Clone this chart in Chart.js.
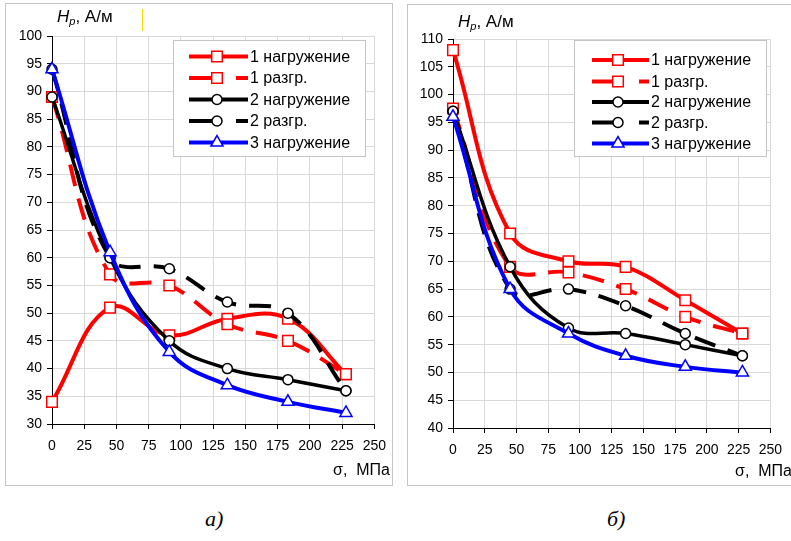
<!DOCTYPE html>
<html>
<head>
<meta charset="utf-8">
<script src="https://cdn.jsdelivr.net/npm/chart.js@4.4.1/dist/chart.umd.min.js"></script>
<style>
  body { margin: 0; background: #fff; width: 791px; height: 541px; position: relative; overflow: hidden; }
  .panel { position: absolute; border: 1px solid #c4c4c4; box-sizing: border-box; }
  #panelA { left: 5px; top: 3px; width: 388px; height: 483px; }
  #panelB { left: 407px; top: 4px; width: 400px; height: 482px; }
  canvas { position: absolute; top: 0; }
  #chartA { left: 0; }
  #chartB { left: 400px; }
  .caption { position: absolute; top: 506px; font: italic 22px 'Liberation Serif', 'Times New Roman', serif; }
  #cursor { position: absolute; left: 142px; top: 9px; width: 1px; height: 22px; background: #f0e000; }
</style>
</head>
<body>
<div class="panel" id="panelA"></div>
<div class="panel" id="panelB"></div>
<div id="cursor"></div>
<canvas id="chartA" width="395" height="490"></canvas>
<canvas id="chartB" width="391" height="490"></canvas>
<div class="caption" style="left:205px">а)</div>
<div class="caption" style="left:607px">б)</div>

<script>
// sigma, MPa - same points for every series
const sigma = [0, 45, 91, 136, 183, 228];
const xTickValues = [0, 25, 50, 75, 100, 125, 150, 175, 200, 225, 250];
const yTicksA = [30, 35, 40, 45, 50, 55, 60, 65, 70, 75, 80, 85, 90, 95, 100];
const yTicksB = [40, 45, 50, 55, 60, 65, 70, 75, 80, 85, 90, 95, 100, 105, 110];

const seriesNames = ['1 нагружение', '1 разгр.', '2 нагружение', '2 разгр.', '3 нагружение'];

// chart a)
const a_load1 = [34, 51, 46, 49, 49, 39];
const a_unload1 = [89, 57, 55, 48, 45, 39];
const a_load2 = [89, 60, 45, 40, 38, 36];
const a_unload2 = [94, 60, 58, 52, 50, 36];
const a_load3 = [94, 61, 43, 37, 34, 32];

// chart б)
const b_load1 = [108, 75, 70, 69, 63, 57];
const b_unload1 = [97.5, 69, 68, 65, 60, 57];
const b_load2 = [97, 69, 58, 57, 55, 53];
const b_unload2 = [97, 65, 65, 62, 57, 53];
const b_load3 = [96, 65, 57, 53, 51, 50];

Chart.defaults.font.family = "'Liberation Sans', Arial, sans-serif";
Chart.defaults.color = '#000';

const FONT = "'Liberation Sans', Arial, sans-serif";
const DASH = [22, 13];

// style of each series (color, dash, marker)
const seriesStyle = [
  { color: '#ff0000', dash: [], point: 'rect', radius: 7.5, width: 4 },
  { color: '#ff0000', dash: DASH, point: 'rect', radius: 7.5, width: 4 },
  { color: '#000000', dash: [], point: 'circle', radius: 5, width: 3.5 },
  { color: '#000000', dash: DASH, point: 'circle', radius: 5, width: 4 },
  { color: '#0000ff', dash: [], point: 'triangle', radius: 7, width: 4 }
];

function makeDatasets(list) {
  return list.map((vals, i) => {
    const s = seriesStyle[i];
    return {
      label: seriesNames[i],
      data: sigma.map((x, k) => ({ x: x, y: vals[k] })),
      borderColor: s.color,
      borderWidth: s.width,
      borderDash: s.dash,
      tension: 0.4,
      pointStyle: s.point,
      pointRadius: s.radius,
      pointBorderWidth: 1.5,
      pointBorderColor: s.color,
      pointBackgroundColor: '#fff',
      clip: false,
      order: 5 - i
    };
  });
}

function drawMarker(ctx, style, r, x, y) {
  ctx.beginPath();
  if (style === 'rect') {
    const h = r * Math.SQRT1_2;
    ctx.rect(x - h, y - h, 2 * h, 2 * h);
  } else if (style === 'circle') {
    ctx.arc(x, y, r, 0, Math.PI * 2);
  } else {
    for (let k = 0; k < 3; k++) {
      const a = k * 2 * Math.PI / 3;
      const px = x + Math.sin(a) * r, py = y - Math.cos(a) * r;
      if (k === 0) ctx.moveTo(px, py); else ctx.lineTo(px, py);
    }
    ctx.closePath();
  }
  ctx.fill();
  ctx.stroke();
}

// axis titles + legend box drawn by hand
const decorPlugin = {
  id: 'decor',
  afterDraw(chart, args, o) {
    const ctx = chart.ctx;
    ctx.save();
    ctx.fillStyle = '#000';
    ctx.textBaseline = 'alphabetic';
    ctx.textAlign = 'left';

    // Hp, A/m
    let x = o.title[0];
    ctx.font = 'italic 17px ' + FONT;
    ctx.fillText('H', x, o.title[1]);
    x += ctx.measureText('H').width;
    ctx.font = 'italic 11px ' + FONT;
    ctx.fillText('p', x, o.title[1] + 3);
    x += ctx.measureText('p').width;
    ctx.font = '17px ' + FONT;
    ctx.fillText(', А/м', x, o.title[1]);

    // sigma, MPa
    ctx.font = '16px ' + FONT;
    ctx.fillText('σ,  МПа', o.sigma[0], o.sigma[1]);

    // legend
    const b = o.box;
    ctx.fillStyle = '#fff';
    ctx.fillRect(b[0], b[1], b[2] - b[0], b[3] - b[1]);
    ctx.strokeStyle = '#c4c4c4';
    ctx.lineWidth = 1;
    ctx.strokeRect(b[0] + 0.5, b[1] + 0.5, b[2] - b[0], b[3] - b[1]);

    ctx.textBaseline = 'middle';
    chart.data.datasets.forEach((ds, i) => {
      const y = o.rows[i];
      ctx.strokeStyle = ds.borderColor;
      ctx.lineWidth = 4;
      ctx.setLineDash(ds.borderDash.length ? [26, 21] : []);
      ctx.beginPath();
      ctx.moveTo(o.lineX[0], y);
      ctx.lineTo(o.lineX[1], y);
      ctx.stroke();
      ctx.setLineDash([]);
      ctx.lineWidth = 1.5;
      ctx.fillStyle = '#fff';
      drawMarker(ctx, ds.pointStyle, ds.pointRadius, o.markerX, y);
      ctx.fillStyle = '#000';
      ctx.font = '16px ' + FONT;
      ctx.fillText(ds.label, o.lineX[1] + 2, y + 1);
    });
    ctx.restore();
  }
};

function makeOptions(yTicks, pad, decor) {
  return {
    responsive: false,
    animation: false,
    layout: { padding: pad },
    plugins: {
      legend: { display: false },
      tooltip: { enabled: false },
      decor: decor
    },
    scales: {
      x: {
        type: 'linear',
        min: xTickValues[0],
        max: xTickValues[xTickValues.length - 1],
        afterBuildTicks: s => { s.ticks = xTickValues.map(v => ({ value: v })); },
        afterFit: s => { s.height = 30; },
        grid: { color: '#d9d9d9', tickColor: '#000', tickLength: 5 },
        border: { color: '#000', width: 1 },
        ticks: { padding: 9, font: { size: 14 }, maxRotation: 0, autoSkip: false }
      },
      y: {
        min: yTicks[0],
        max: yTicks[yTicks.length - 1],
        afterBuildTicks: s => { s.ticks = yTicks.map(v => ({ value: v })); },
        afterFit: s => { s.width = 52; },
        grid: { color: '#d9d9d9', tickColor: '#000', tickLength: 5 },
        border: { color: '#000', width: 1 },
        ticks: { padding: 5, font: { size: 14 }, autoSkip: false }
      }
    }
  };
}

new Chart(document.getElementById('chartA').getContext('2d'), {
  type: 'line',
  data: { datasets: makeDatasets([a_load1, a_unload1, a_load2, a_unload2, a_load3]) },
  options: makeOptions(yTicksA, { left: 0, top: 36, right: 18, bottom: 36 }, {
    title: [57, 22],
    sigma: [333, 475],
    box: [173, 40, 365, 156],
    rows: [56.5, 78, 99.5, 121, 142.5],
    lineX: [189, 248],
    markerX: 217
  }),
  plugins: [decorPlugin]
});

new Chart(document.getElementById('chartB').getContext('2d'), {
  type: 'line',
  data: { datasets: makeDatasets([b_load1, b_unload1, b_load2, b_unload2, b_load3]) },
  options: makeOptions(yTicksB, { left: 1, top: 39, right: 14, bottom: 32 }, {
    title: [58, 27],
    sigma: [335, 476],
    box: [174, 40, 366, 156],
    rows: [60, 81.5, 102, 122.5, 143.5],
    lineX: [192, 249],
    markerX: 218
  }),
  plugins: [decorPlugin]
});
</script>
</body>
</html>
